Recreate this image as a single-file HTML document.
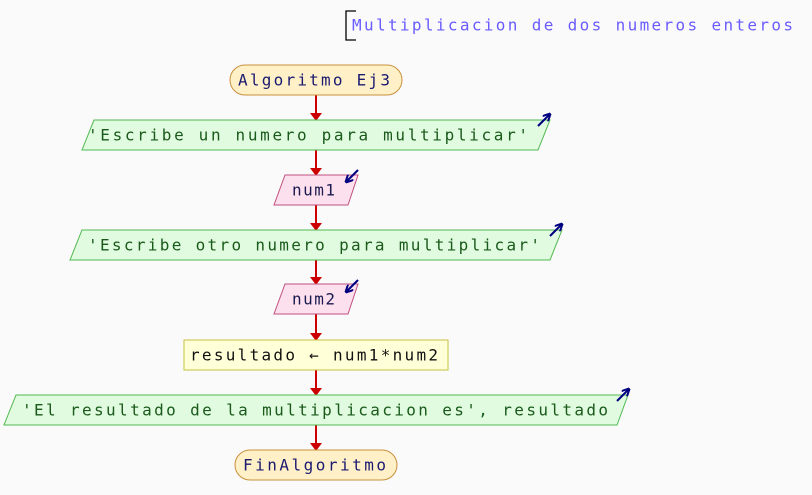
<!DOCTYPE html>
<html><head><meta charset="utf-8"><style>
html,body{margin:0;padding:0;background:#fafafa;}
svg{display:block}
text{font-family:"DejaVu Sans Mono","Liberation Mono",monospace;font-size:16px;dominant-baseline:central;}
</style></head><body>
<svg width="812" height="495" viewBox="0 0 812 495" xmlns="http://www.w3.org/2000/svg">
<rect width="812" height="495" fill="#fafafa"/>
<defs>
<marker id="ah" markerWidth="8" markerHeight="12" refX="7" refY="6" orient="auto" markerUnits="userSpaceOnUse"><path d="M0,0 L8,6 L0,12 z" fill="#cc0000"/></marker>
<marker id="bh" markerWidth="8" markerHeight="8" refX="7" refY="4" orient="auto" markerUnits="userSpaceOnUse"><path d="M0,0 L8,4 L0,8" fill="none" stroke="#000080" stroke-width="2"/></marker>
</defs>
<path d="M356,11 L346,11 L346,40 L356,40" fill="none" stroke="#000" stroke-width="1.3"/>
<text x="352" y="25" fill="#6a5cff" textLength="441" lengthAdjust="spacing">Multiplicacion de dos numeros enteros</text>
<g stroke="#cc0000" stroke-width="2" marker-end="url(#ah)">
<line x1="316" y1="95" x2="316" y2="120"/>
<line x1="316" y1="150" x2="316" y2="175"/>
<line x1="316" y1="205" x2="316" y2="230"/>
<line x1="316" y1="260" x2="316" y2="284"/>
<line x1="316" y1="314" x2="316" y2="340"/>
<line x1="316" y1="370" x2="316" y2="395"/>
<line x1="316" y1="425" x2="316" y2="450"/>
</g>
<rect x="230" y="65" width="172" height="30" rx="15" fill="#fff0c8" stroke="#c8903c"/>
<text x="238" y="80" fill="#1a1a70" textLength="152" lengthAdjust="spacing">Algoritmo Ej3</text>
<polygon points="94,120 550,120 538,150 82,150" fill="#e0fbe0" stroke="#50b850"/>
<text x="88" y="135" fill="#1a5a1a" textLength="440" lengthAdjust="spacing">'Escribe un numero para multiplicar'</text>
<line x1="538" y1="126" x2="550" y2="114" stroke="#000080" stroke-width="2" marker-end="url(#bh)"/>
<polygon points="285,175 358,175 348,205 274,205" fill="#fde0ee" stroke="#c05080"/>
<text x="292" y="190" fill="#1a1a50" textLength="43" lengthAdjust="spacing">num1</text>
<line x1="358" y1="170" x2="346" y2="182" stroke="#000080" stroke-width="2" marker-end="url(#bh)"/>
<polygon points="82,230 562,230 550,260 70,260" fill="#e0fbe0" stroke="#50b850"/>
<text x="88" y="245" fill="#1a5a1a" textLength="452" lengthAdjust="spacing">'Escribe otro numero para multiplicar'</text>
<line x1="550" y1="236" x2="562" y2="224" stroke="#000080" stroke-width="2" marker-end="url(#bh)"/>
<polygon points="285,284 358,284 348,314 274,314" fill="#fde0ee" stroke="#c05080"/>
<text x="292" y="299" fill="#1a1a50" textLength="43" lengthAdjust="spacing">num2</text>
<line x1="358" y1="280" x2="346" y2="292" stroke="#000080" stroke-width="2" marker-end="url(#bh)"/>
<rect x="184" y="340" width="264" height="30" fill="#ffffd8" stroke="#c8c040"/>
<text x="190" y="355" fill="#111" textLength="248" lengthAdjust="spacing">resultado ← num1*num2</text>
<polygon points="16,395 628,395 617,425 4,425" fill="#e0fbe0" stroke="#50b850"/>
<text x="22" y="410" fill="#1a5a1a" textLength="586" lengthAdjust="spacing">'El resultado de la multiplicacion es', resultado</text>
<line x1="617" y1="401" x2="629" y2="389" stroke="#000080" stroke-width="2" marker-end="url(#bh)"/>
<rect x="235" y="450" width="162" height="30" rx="15" fill="#fff0c8" stroke="#c8903c"/>
<text x="243" y="465" fill="#1a1a70" textLength="143" lengthAdjust="spacing">FinAlgoritmo</text>
</svg>
</body></html>
